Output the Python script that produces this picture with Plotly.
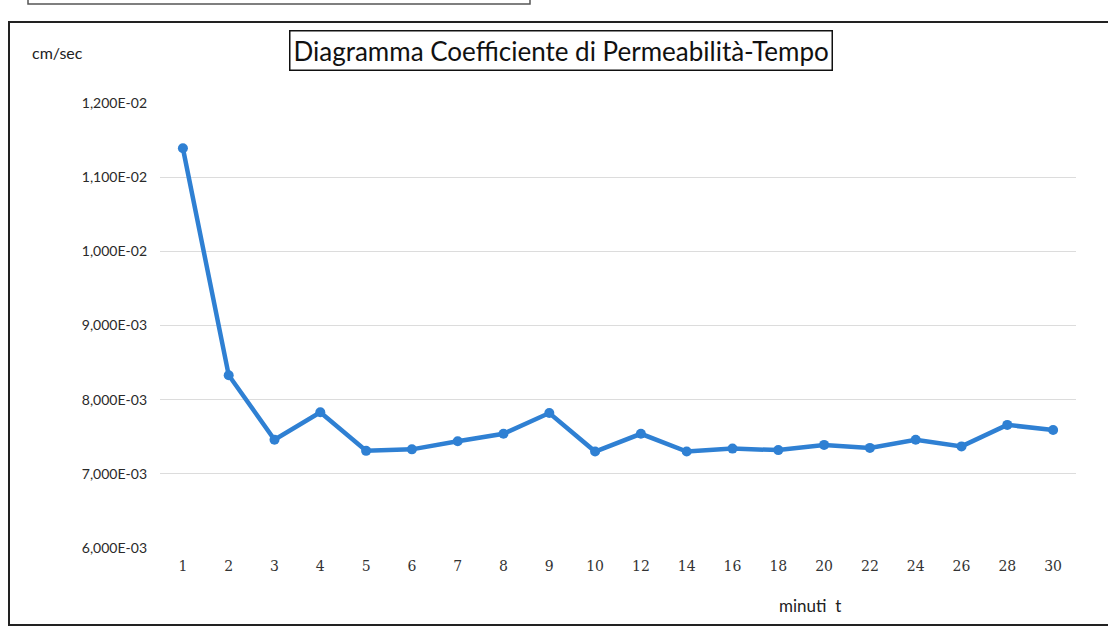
import plotly.graph_objects as go

# minutes (category axis) and permeability coefficient (cm/sec)
minuti = ["1", "2", "3", "4", "5", "6", "7", "8", "9", "10",
          "12", "14", "16", "18", "20", "22", "24", "26", "28", "30"]
coefficiente = [0.01139, 0.00833, 0.00746, 0.00783, 0.00731, 0.00733, 0.00744, 0.00754, 0.00782, 0.00730,
                0.00754, 0.00730, 0.00734, 0.00732, 0.00739, 0.00735, 0.00746, 0.00737, 0.00766, 0.00759]

y_tickvals = [0.006, 0.007, 0.008, 0.009, 0.010, 0.011, 0.012]
y_ticktext = ["6,000E-03", "7,000E-03", "8,000E-03", "9,000E-03", "1,000E-02", "1,100E-02", "1,200E-02"]

FONT = "Lato, 'Open Sans', sans-serif"
BLUE = "#2f80d3"

# page body margin is removed below, so layout is in plain screen pixels
W, H = 1108, 629
L, R, T, B = 160, 1076, 103, 548


def px(x):
    return (x - L) / (R - L)


def py(y):
    return (B - y) / (B - T)


fig = go.Figure()
fig.add_trace(
    go.Scatter(
        x=minuti,
        y=coefficiente,
        mode="lines+markers",
        line=dict(color=BLUE, width=4.5),
        marker=dict(color=BLUE, size=10),
        showlegend=False,
    )
)

fig.update_layout(
    width=W,
    height=H,
    margin=dict(l=L, r=W - R, t=T, b=H - B),
    paper_bgcolor="white",
    plot_bgcolor="white",
    font=dict(family=FONT, color="#222222", size=13),
    xaxis=dict(
        type="category",
        range=[-0.5, len(minuti) - 0.5],
        showgrid=False,
        showline=False,
        zeroline=False,
        ticks="",
        ticklabelstandoff=8,
        tickfont=dict(size=14, family="'DejaVu Serif', serif", color="#333333"),
    ),
    yaxis=dict(
        range=[0.006, 0.012],
        tickvals=y_tickvals,
        ticktext=y_ticktext,
        showgrid=True,
        gridcolor="#dcdcdc",
        gridwidth=1,
        zeroline=False,
        showline=False,
        ticks="",
        ticklabelstandoff=12,
        tickfont=dict(size=14, color="#2a2a2a"),
    ),
    annotations=[
        dict(
            text="Diagramma Coefficiente di Permeabilità-Tempo",
            x=px(561), y=py(51), xref="paper", yref="paper",
            xanchor="center", yanchor="middle", showarrow=False,
            font=dict(size=26, family=FONT, color="#111111"),
            bordercolor="#111111", borderwidth=1.5, borderpad=3,
            bgcolor="white",
        ),
        dict(
            text="cm/sec",
            x=px(30), y=py(52), xref="paper", yref="paper",
            xanchor="left", yanchor="middle", showarrow=False,
            font=dict(size=16, family=FONT, color="#222222"),
        ),
        dict(
            text="minuti\u00a0\u00a0t",
            x=px(810), y=py(605), xref="paper", yref="paper",
            xanchor="center", yanchor="middle", showarrow=False,
            font=dict(size=17, family=FONT, color="#222222"),
        ),
    ],
    shapes=[
        # outer chart frame
        dict(type="rect", xref="paper", yref="paper",
             x0=px(9), x1=px(1115), y0=py(625), y1=py(22),
             line=dict(color="#222222", width=2)),
        # bottom of the box above the chart
        dict(type="rect", xref="paper", yref="paper",
             x0=px(28), x1=px(530), y0=py(4), y1=py(-20),
             line=dict(color="#555555", width=1.5)),
    ],
)

fig.write_html(
    "out.html",
    config={"displayModeBar": False},
    post_script="document.body.style.margin='0';document.body.style.overflow='hidden';",
)
